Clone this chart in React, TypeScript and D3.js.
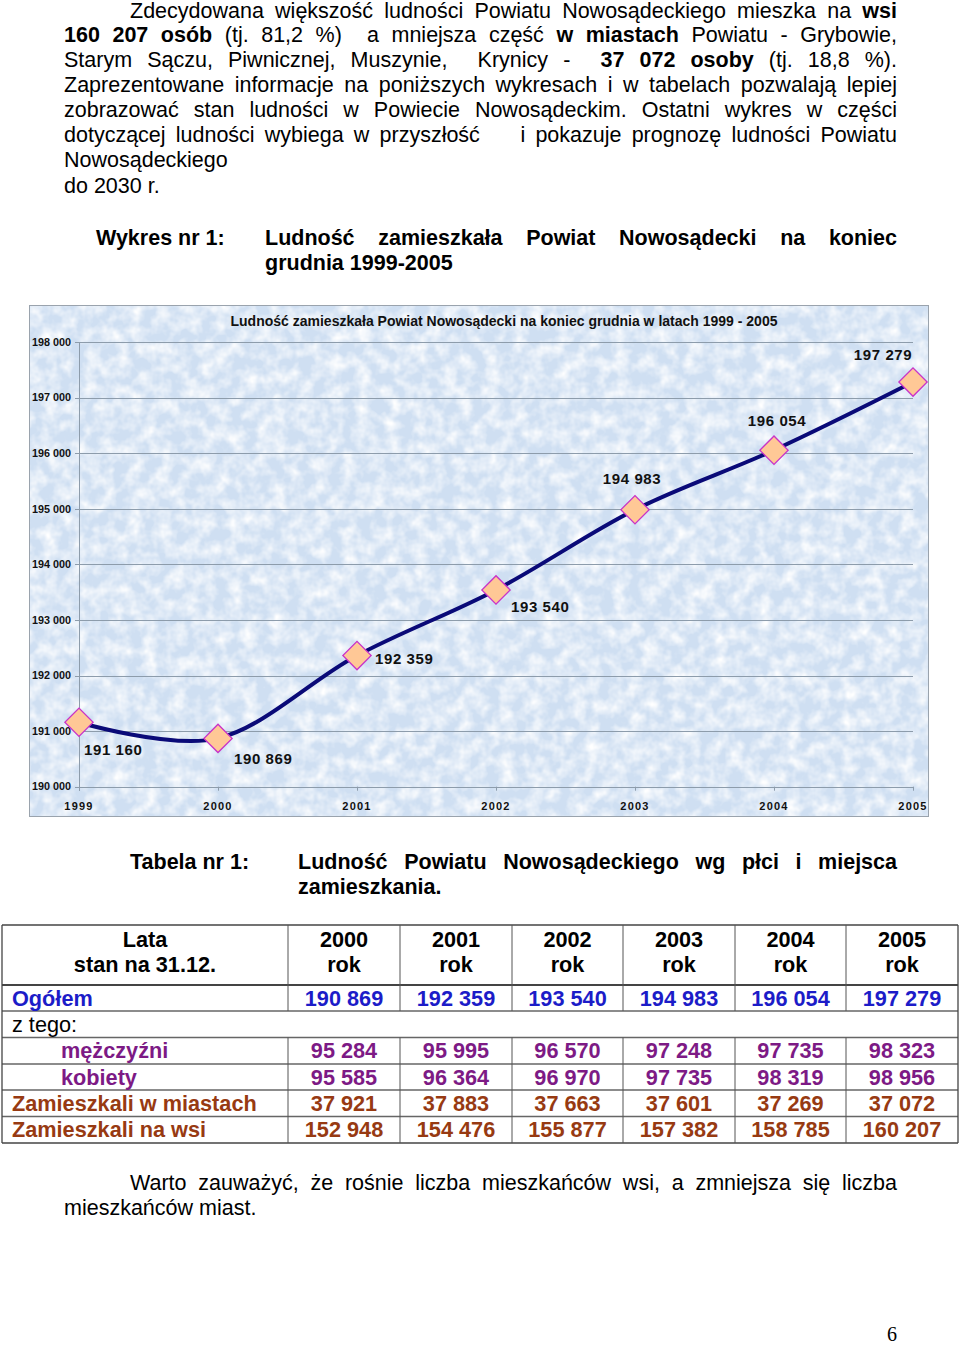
import React, { useEffect, useRef } from "react";
import * as d3 from "d3";

const W = 960;
const H = 1345;
const FONT = "'Liberation Sans', Arial, Helvetica, sans-serif";

// ---------- chart data ----------
const years = ["1999", "2000", "2001", "2002", "2003", "2004", "2005"];
const population = [191160, 190869, 192359, 193540, 194983, 196054, 197279];
const yTickValues = [190000, 191000, 192000, 193000, 194000, 195000, 196000, 197000, 198000];
const chartTitle = "Ludność zamieszkała Powiat Nowosądecki na koniec grudnia w latach 1999 - 2005";
// label placement relative to each marker: [dx, dy, anchor]
const labelPlacement: [number, number, string][] = [
  [5, 27, "start"],
  [16, 20, "start"],
  [18, 3, "start"],
  [15, 17, "start"],
  [-3, -31, "middle"],
  [3, -30, "middle"],
  [-30, -27, "middle"],
];

// ---------- table data ----------
const tableYears = ["2000", "2001", "2002", "2003", "2004", "2005"];
const totalRow = [190869, 192359, 193540, 194983, 196054, 197279];
const menRow = [95284, 95995, 96570, 97248, 97735, 98323];
const womenRow = [95585, 96364, 96970, 97735, 98319, 98956];
const urbanRow = [37921, 37883, 37663, 37601, 37269, 37072];
const ruralRow = [152948, 154476, 155877, 157382, 158785, 160207];

type Seg = [string, boolean];
interface LineSpec {
  x0: number;
  x1: number;
  y: number;
  segs: Seg[];
  justify: boolean;
}

const introLines: LineSpec[] = [
  { x0: 130, x1: 897, y: 18, justify: true, segs: [["Zdecydowana większość ludności Powiatu Nowosądeckiego mieszka na ", false], ["wsi", true]] },
  { x0: 64, x1: 897, y: 41.5, justify: true, segs: [["160 207 osób", true], [" (tj. 81,2 %)  a mniejsza część ", false], ["w miastach", true], [" Powiatu - Grybowie,", false]] },
  { x0: 64, x1: 897, y: 66.6, justify: true, segs: [["Starym Sączu, Piwnicznej, Muszynie,  Krynicy -  ", false], ["37 072 osoby", true], [" (tj. 18,8 %).", false]] },
  { x0: 64, x1: 897, y: 91.8, justify: true, segs: [["Zaprezentowane informacje na poniższych wykresach i w tabelach pozwalają lepiej", false]] },
  { x0: 64, x1: 897, y: 117, justify: true, segs: [["zobrazować stan ludności w Powiecie Nowosądeckim. Ostatni wykres w części", false]] },
  { x0: 64, x1: 897, y: 142.2, justify: true, segs: [["dotyczącej ludności wybiega w przyszłość    i pokazuje prognozę ludności Powiatu", false]] },
  { x0: 64, x1: 897, y: 167.4, justify: false, segs: [["Nowosądeckiego", false]] },
  { x0: 64, x1: 897, y: 192.6, justify: false, segs: [["do 2030 r.", false]] },
];

const headingLines: LineSpec[] = [
  { x0: 96, x1: 300, y: 245, justify: false, segs: [["Wykres nr 1:", true]] },
  { x0: 265, x1: 897, y: 245, justify: true, segs: [["Ludność zamieszkała Powiat Nowosądecki na koniec", true]] },
  { x0: 265, x1: 897, y: 270, justify: false, segs: [["grudnia 1999-2005", true]] },
  { x0: 130, x1: 300, y: 868.5, justify: false, segs: [["Tabela nr 1:", true]] },
  { x0: 298, x1: 897, y: 868.5, justify: true, segs: [["Ludność Powiatu Nowosądeckiego wg płci i miejsca", true]] },
  { x0: 298, x1: 897, y: 894, justify: false, segs: [["zamieszkania.", true]] },
  { x0: 130, x1: 897, y: 1189.5, justify: true, segs: [["Warto zauważyć, że rośnie liczba mieszkańców wsi, a zmniejsza się liczba", false]] },
  { x0: 64, x1: 897, y: 1215, justify: false, segs: [["mieszkańców miast.", false]] },
];

const plLocale = d3.formatLocale({ thousands: " ", grouping: [3], decimal: ",", currency: ["", " zł"] });
const fmt = plLocale.format(",d");

function tokenize(segs: Seg[]) {
  const words: { text: string; bold: boolean; spaces: number }[] = [];
  let pending = 0;
  for (const [text, bold] of segs) {
    const parts = text.split(" ");
    parts.forEach((p, i) => {
      if (i > 0) pending++;
      if (p.length) {
        words.push({ text: p, bold, spaces: words.length ? pending : 0 });
        pending = 0;
      }
    });
  }
  return words;
}

function drawLine(g: any, spec: LineSpec, size: number) {
  if (!spec.justify) {
    const t = g
      .append("text")
      .attr("x", spec.x0)
      .attr("y", spec.y)
      .attr("font-size", size)
      .style("white-space", "pre");
    spec.segs.forEach(([s, b]) => t.append("tspan").attr("font-weight", b ? "bold" : "normal").text(s));
    return;
  }
  const words = tokenize(spec.segs);
  const nodes = words.map((w) =>
    g
      .append("text")
      .attr("y", spec.y)
      .attr("font-size", size)
      .attr("font-weight", w.bold ? "bold" : "normal")
      .text(w.text)
  );
  const widths = nodes.map((n) => (n.node() as SVGTextElement).getComputedTextLength());
  const sumW = d3.sum(widths);
  const nSp = d3.sum(words, (w) => w.spaces) || 1;
  const gap = (spec.x1 - spec.x0 - sumW) / nSp;
  let x = spec.x0;
  nodes.forEach((n, i) => {
    x += words[i].spaces * gap;
    n.attr("x", x);
    x += widths[i];
  });
}

function draw(svg: any) {
  svg.style("font-family", FONT);
  const defs = svg.append("defs");
  const f = defs
    .append("filter")
    .attr("id", "tex")
    .attr("x", 0)
    .attr("y", 0)
    .attr("width", "100%")
    .attr("height", "100%");
  f.append("feTurbulence")
    .attr("type", "fractalNoise")
    .attr("baseFrequency", "0.07")
    .attr("numOctaves", 3)
    .attr("seed", 7)
    .attr("result", "n");
  f.append("feColorMatrix")
    .attr("in", "n")
    .attr("type", "matrix")
    .attr("values", "0 0 0 0 1  0 0 0 0 1  0 0 0 0 1  0 0 0 1.8 -0.62");

  // ---------- text ----------
  const textG = svg.append("g").attr("fill", "#000");
  introLines.forEach((l) => drawLine(textG, l, 21.5));
  headingLines.forEach((l) => drawLine(textG, l, 21.5));
  textG
    .append("text")
    .attr("x", 897)
    .attr("y", 1340.5)
    .attr("text-anchor", "end")
    .attr("font-size", 20)
    .style("font-family", "'Liberation Serif', 'Times New Roman', serif")
    .text("6");

  // ---------- chart ----------
  const box = { x: 29, y: 305, w: 900, h: 512 };
  const cg = svg.append("g");
  cg.append("rect")
    .attr("x", box.x)
    .attr("y", box.y)
    .attr("width", box.w)
    .attr("height", box.h)
    .attr("fill", "#cfdff2");
  cg.append("rect")
    .attr("x", box.x)
    .attr("y", box.y)
    .attr("width", box.w)
    .attr("height", box.h)
    .attr("fill", "#fff")
    .attr("filter", "url(#tex)");
  cg.append("rect")
    .attr("x", box.x + 0.5)
    .attr("y", box.y + 0.5)
    .attr("width", box.w - 1)
    .attr("height", box.h - 1)
    .attr("fill", "none")
    .attr("stroke", "#9aa3ad")
    .attr("stroke-width", 1);

  const x = d3.scalePoint<string>().domain(years).range([79, 913]).padding(0);
  const y = d3.scaleLinear().domain([190000, 198000]).range([786.7, 342]);

  cg.append("g")
    .selectAll("line")
    .data(yTickValues)
    .join("line")
    .attr("x1", 75)
    .attr("x2", 913)
    .attr("y1", (d: number) => Math.round(y(d)) + 0.5)
    .attr("y2", (d: number) => Math.round(y(d)) + 0.5)
    .attr("stroke", "#8d9cab")
    .attr("stroke-width", 1);
  cg.append("line")
    .attr("x1", 79.5)
    .attr("x2", 79.5)
    .attr("y1", y(198000))
    .attr("y2", y(190000) + 4)
    .attr("stroke", "#8d9cab");
  cg.append("g")
    .selectAll("line")
    .data(years)
    .join("line")
    .attr("x1", (d: string) => Math.round(x(d)!) + 0.5)
    .attr("x2", (d: string) => Math.round(x(d)!) + 0.5)
    .attr("y1", y(190000))
    .attr("y2", y(190000) + 4)
    .attr("stroke", "#8d9cab");

  cg.append("g")
    .selectAll("text")
    .data(yTickValues)
    .join("text")
    .attr("x", 71)
    .attr("y", (d: number) => y(d))
    .attr("dy", "0.35em")
    .attr("text-anchor", "end")
    .attr("font-size", 10.8)
    .attr("font-weight", "bold")
    .attr("fill", "#111")
    .text((d: number) => fmt(d));

  cg.append("g")
    .selectAll("text")
    .data(years)
    .join("text")
    .attr("x", (d: string) => x(d)!)
    .attr("y", 809.5)
    .attr("text-anchor", "middle")
    .attr("font-size", 11)
    .attr("font-weight", "bold")
    .attr("letter-spacing", 1.2)
    .attr("fill", "#111")
    .text((d: string) => d);

  cg.append("text")
    .attr("x", 504)
    .attr("y", 325.5)
    .attr("text-anchor", "middle")
    .attr("font-size", 14)
    .attr("font-weight", "bold")
    .attr("fill", "#111")
    .text(chartTitle);

  const pts = years.map((yr, i) => [x(yr)!, y(population[i])] as [number, number]);
  const lineGen = d3.line().curve(d3.curveCardinal.tension(0));
  cg.append("path")
    .attr("d", lineGen(pts))
    .attr("fill", "none")
    .attr("stroke", "#0a0a78")
    .attr("stroke-width", 4)
    .attr("stroke-linejoin", "round");

  const sym = d3.symbol().type(d3.symbolSquare).size(400);
  cg.append("g")
    .selectAll("path")
    .data(pts)
    .join("path")
    .attr("d", sym() as string)
    .attr("transform", (d: [number, number]) => `translate(${d[0]},${d[1]}) rotate(45)`)
    .attr("fill", "#ffc896")
    .attr("stroke", "#c833c8")
    .attr("stroke-width", 1.3);

  cg.append("g")
    .selectAll("text")
    .data(population)
    .join("text")
    .attr("x", (_d: number, i: number) => pts[i][0] + labelPlacement[i][0])
    .attr("y", (_d: number, i: number) => pts[i][1] + labelPlacement[i][1])
    .attr("dy", "0.36em")
    .attr("text-anchor", (_d: number, i: number) => labelPlacement[i][2])
    .attr("font-size", 15)
    .attr("font-weight", "bold")
    .attr("letter-spacing", 0.6)
    .attr("fill", "#111")
    .text((d: number) => fmt(d));

  // ---------- table ----------
  const tg = svg.append("g");
  const cols = [2, 288, 400, 512, 623, 735, 846, 958];
  const rowsY = [925, 985, 1011, 1037.5, 1064, 1090, 1116.5, 1143];
  const TF = 21.7;
  const rows = [
    { label: "Ogółem", values: totalRow, color: "#1c1cc8", indent: 12, bold: true },
    { label: "z tego:", values: null as number[] | null, color: "#000", indent: 12, bold: false },
    { label: "mężczyźni", values: menRow, color: "#7d1a85", indent: 61, bold: true },
    { label: "kobiety", values: womenRow, color: "#7d1a85", indent: 61, bold: true },
    { label: "Zamieszkali w miastach", values: urbanRow, color: "#973a12", indent: 12, bold: true },
    { label: "Zamieszkali na wsi", values: ruralRow, color: "#973a12", indent: 12, bold: true },
  ];

  rowsY.forEach((yy, i) => {
    tg.append("line")
      .attr("x1", cols[0])
      .attr("x2", cols[cols.length - 1])
      .attr("y1", yy)
      .attr("y2", yy)
      .attr("stroke", i === 1 || i === 0 || i === rowsY.length - 1 ? "#444" : "#666")
      .attr("stroke-width", i === 1 ? 2.2 : 1.3);
  });
  [cols[0], cols[cols.length - 1]].forEach((cx) =>
    tg.append("line")
      .attr("x1", cx)
      .attr("x2", cx)
      .attr("y1", rowsY[0])
      .attr("y2", rowsY[rowsY.length - 1])
      .attr("stroke", "#444")
      .attr("stroke-width", 1.3)
  );
  cols.slice(1, -1).forEach((cx) => {
    [[rowsY[0], rowsY[2]], [rowsY[3], rowsY[7]]].forEach(([a, b]) =>
      tg.append("line")
        .attr("x1", cx)
        .attr("x2", cx)
        .attr("y1", a)
        .attr("y2", b)
        .attr("stroke", "#555")
        .attr("stroke-width", 1)
    );
  });

  const hdr = tg.append("g").attr("font-size", TF).attr("font-weight", "bold").attr("fill", "#000").attr("text-anchor", "middle");
  hdr.append("text").attr("x", (cols[0] + cols[1]) / 2).attr("y", 946.7).text("Lata");
  hdr.append("text").attr("x", (cols[0] + cols[1]) / 2).attr("y", 971.7).text("stan na 31.12.");
  tableYears.forEach((yr, j) => {
    const cx = (cols[j + 1] + cols[j + 2]) / 2;
    hdr.append("text").attr("x", cx).attr("y", 946.7).text(yr);
    hdr.append("text").attr("x", cx).attr("y", 971.7).text("rok");
  });

  rows.forEach((r, i) => {
    const base = (rowsY[i + 1] + rowsY[i + 2]) / 2 + 7.5;
    tg.append("text")
      .attr("x", r.indent)
      .attr("y", base)
      .attr("font-size", TF)
      .attr("font-weight", r.bold ? "bold" : "normal")
      .attr("fill", r.color)
      .text(r.label);
    if (r.values) {
      r.values.forEach((v, j) => {
        tg.append("text")
          .attr("x", (cols[j + 1] + cols[j + 2]) / 2)
          .attr("y", base)
          .attr("text-anchor", "middle")
          .attr("font-size", TF)
          .attr("font-weight", "bold")
          .attr("fill", r.color)
          .text(fmt(v));
      });
    }
  });
}

export default function App() {
  const ref = useRef<SVGSVGElement>(null);
  useEffect(() => {
    document.body.style.margin = "0";
    document.body.style.overflow = "hidden";
    const svg = d3.select(ref.current);
    svg.selectAll("*").remove();
    draw(svg);
  }, []);
  return <svg ref={ref} width={W} height={H} style={{ display: "block", background: "#fff" }} />;
}
